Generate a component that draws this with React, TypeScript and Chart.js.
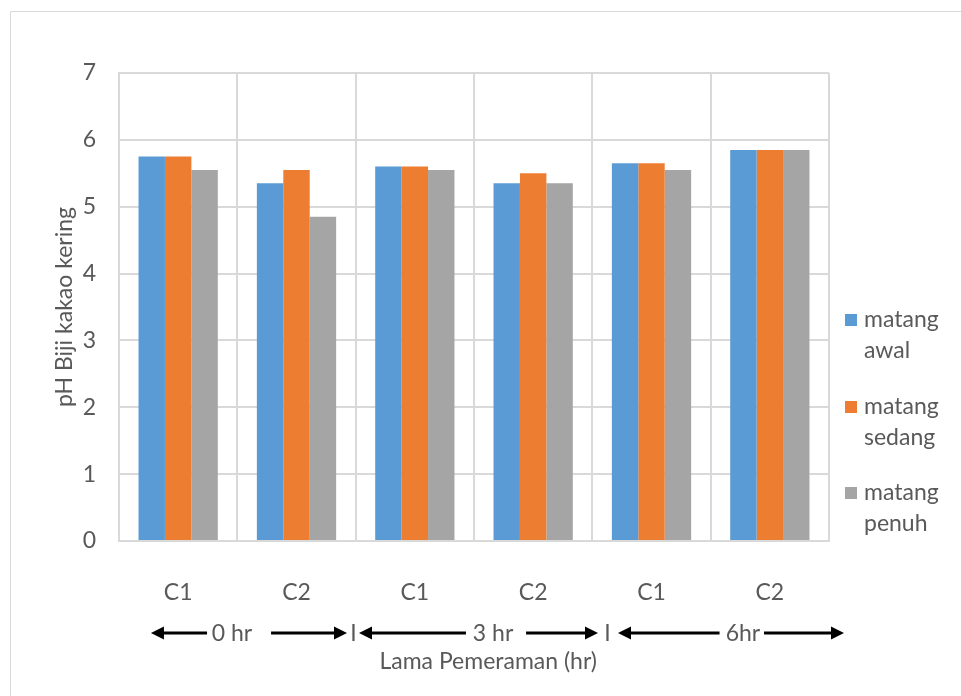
import React, { useEffect, useRef } from 'react';
import { Chart, registerables } from 'chart.js';
Chart.register(...registerables);

const categories = ['C1', 'C2', 'C1', 'C2', 'C1', 'C2'];
const matangAwal = [5.75, 5.35, 5.6, 5.35, 5.65, 5.85];
const matangSedang = [5.75, 5.55, 5.6, 5.5, 5.65, 5.85];
const matangPenuh = [5.55, 4.85, 5.55, 5.35, 5.55, 5.85];
const seriesLabels = ['matang awal', 'matang sedang', 'matang penuh'];
const seriesColors = ['#5b9bd5', '#ed7d31', '#a5a5a5'];
const periodLabels = ['0 hr', '3 hr', '6hr'];
const yAxisTitle = 'pH Biji kakao kering';
const xAxisTitle = 'Lama Pemeraman (hr)';
const yMin = 0;
const yMax = 7;
const yStep = 1;

// annotation layout in category units from the left of the plot area
// [left tip, left line end, text centre, right line start, right tip]
const arrowSpans = [
  [0.27, 0.744, 0.955, 1.285, 1.927],
  [2.028, 2.932, 3.161, 3.44, 4.048],
  [4.217, 5.075, 5.273, 5.451, 6.127],
];
const separators = [1.982, 4.128];
const xTitleAt = 3.12;

const FONT = 'Lato, "Open Sans", sans-serif';
const FS = 23;
const TEXT = '#595959';

const annotations = {
  id: 'annotations',
  beforeDraw(chart: any) {
    const ctx = chart.ctx;
    ctx.save();
    ctx.fillStyle = '#ffffff';
    ctx.fillRect(0, 0, chart.width, chart.height);
    ctx.strokeStyle = '#d9d9d9';
    ctx.lineWidth = 1;
    ctx.beginPath();
    ctx.moveTo(10.5, chart.height + 5);
    ctx.lineTo(10.5, 11.5);
    ctx.lineTo(chart.width + 5, 11.5);
    ctx.stroke();
    ctx.restore();
  },
  afterDraw(chart: any) {
    const ctx = chart.ctx;
    const area = chart.chartArea;
    const cw = (area.right - area.left) / categories.length;
    const px = (u: number) => area.left + u * cw;
    const rowY = 633;
    ctx.save();
    ctx.font = `${FS}px ${FONT}`;
    ctx.textBaseline = 'middle';
    ctx.textAlign = 'center';
    const head = (tip: number, dir: number) => {
      ctx.beginPath();
      ctx.moveTo(tip, rowY);
      ctx.lineTo(tip - dir * 13, rowY - 6.5);
      ctx.lineTo(tip - dir * 13, rowY + 6.5);
      ctx.closePath();
      ctx.fill();
    };
    arrowSpans.forEach((s, i) => {
      const [a, b, c, d, e] = s.map(px);
      ctx.strokeStyle = '#000';
      ctx.fillStyle = '#000';
      ctx.lineWidth = 3;
      ctx.beginPath();
      ctx.moveTo(a + 10, rowY);
      ctx.lineTo(b, rowY);
      ctx.moveTo(d, rowY);
      ctx.lineTo(e - 10, rowY);
      ctx.stroke();
      head(a, -1);
      head(e, 1);
      ctx.fillStyle = TEXT;
      ctx.fillText(periodLabels[i], c, rowY + 1);
    });
    ctx.fillStyle = TEXT;
    separators.forEach((u) => ctx.fillText('I', px(u), rowY + 1));
    ctx.fillText(xAxisTitle, px(xTitleAt), 662);

    // legend
    const legendTop = [320, 407, 493];
    seriesLabels.forEach((lab, i) => {
      const y = legendTop[i];
      ctx.fillStyle = seriesColors[i];
      ctx.fillRect(845, y - 6, 12, 12);
      ctx.fillStyle = TEXT;
      ctx.textAlign = 'left';
      const parts = lab.split(' ');
      ctx.fillText(parts[0], 864, y);
      ctx.fillText(parts[1], 864, y + 31);
    });
    ctx.restore();
  },
};

export default function App() {
  const ref = useRef<HTMLCanvasElement | null>(null);
  useEffect(() => {
    if (!ref.current) return;
    const chart = new Chart(ref.current, {
      type: 'bar',
      data: {
        labels: categories,
        datasets: [
          { label: seriesLabels[0], data: matangAwal, backgroundColor: seriesColors[0] },
          { label: seriesLabels[1], data: matangSedang, backgroundColor: seriesColors[1] },
          { label: seriesLabels[2], data: matangPenuh, backgroundColor: seriesColors[2] },
        ],
      },
      options: {
        responsive: false,
        animation: false,
        devicePixelRatio: 1,
        layout: { padding: { left: 47, right: 132, top: 73, bottom: 0 } },
        datasets: { bar: { barPercentage: 1, categoryPercentage: 0.67 } },
        plugins: { legend: { display: false }, tooltip: { enabled: false } },
        scales: {
          x: {
            afterFit: (s: any) => { s.height = 155; },
            grid: { color: '#d9d9d9', lineWidth: 2, drawTicks: false, offset: true },
            border: { color: '#d9d9d9', width: 2 },
            ticks: { color: TEXT, font: { family: FONT, size: FS }, padding: 38 },
          },
          y: {
            min: yMin,
            max: yMax,
            afterFit: (s: any) => { s.width = 72; },
            grid: { color: '#d9d9d9', lineWidth: 2, drawTicks: false },
            border: { color: '#d9d9d9', width: 2 },
            ticks: { stepSize: yStep, color: TEXT, font: { family: FONT, size: FS }, padding: 23 },
            title: { display: true, text: yAxisTitle, color: TEXT, font: { family: FONT, size: FS }, padding: { top: 4, bottom: 4 } },
          },
        },
      },
      plugins: [annotations],
    });
    return () => chart.destroy();
  }, []);
  return (
    <div style={{ position: 'absolute', left: 0, top: 0, width: 961, height: 696 }}>
      <canvas ref={ref} width={961} height={696} style={{ display: 'block' }} />
    </div>
  );
}
